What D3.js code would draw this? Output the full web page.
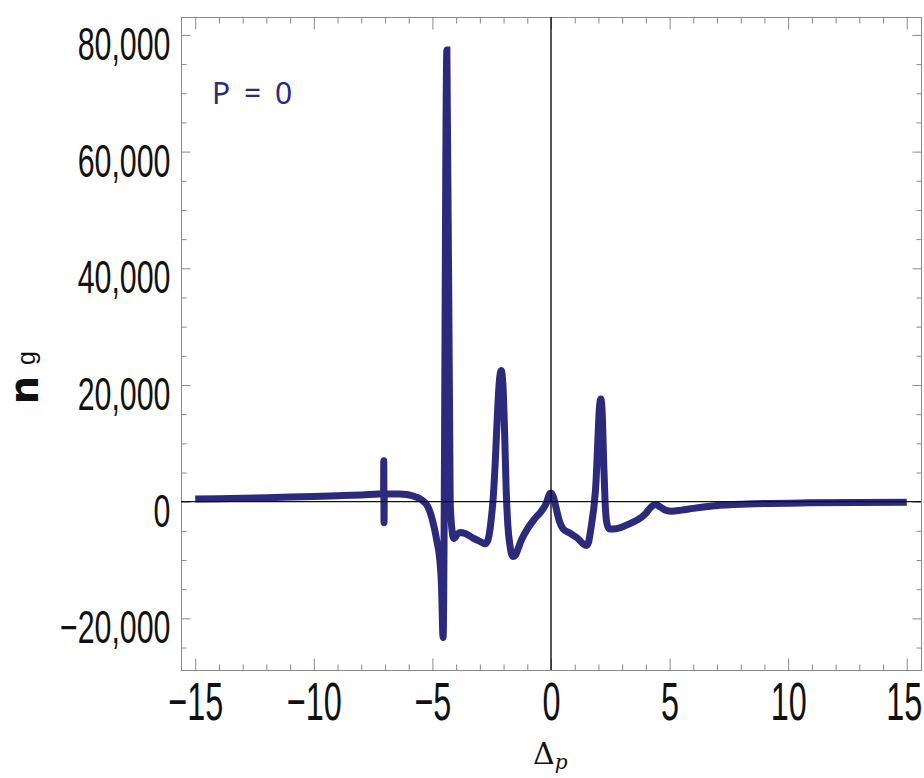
<!DOCTYPE html>
<html>
<head>
<meta charset="utf-8">
<script src="https://cdn.jsdelivr.net/npm/d3@7"></script>
<style>
  html, body { margin: 0; padding: 0; background: #fff; }
  svg { display: block; }
</style>
</head>
<body>
<svg id="chart" width="924" height="778"></svg>
<script>
// ---- data ----
const deltaP = [
  -15, -14, -13, -12, -11, -10, -9, -8, -7.4, -7.15, -7.06, -7.05, -7.04, -7.03,
  -6.8, -6.4, -6.1, -5.9, -5.7, -5.53, -5.35, -5.2, -5.05, -4.92, -4.8, -4.7, -4.62, -4.55,
  -4.39, -4.25, -4.17, -4.10, -3.95, -3.82, -3.6, -3.3, -3.0, -2.78, -2.68, -2.6, -2.52,
  -2.44, -2.36, -2.27, -2.18, -2.1, -2.02, -1.95, -1.89, -1.82, -1.72, -1.6, -1.5, -1.4, -1.25, -1.0,
  -0.7, -0.4, -0.2, -0.05, 0.0, 0.1, 0.2, 0.35, 0.5, 0.8, 1.1, 1.35, 1.5, 1.58, 1.66, 1.74,
  1.82, 1.9, 1.97, 2.04, 2.1, 2.16, 2.22, 2.28, 2.36, 2.46, 2.62, 2.9, 3.3, 3.7, 4.0, 4.2, 4.4, 4.6,
  4.85, 5.1, 5.5, 6.0, 6.9, 8.3, 10.8, 15
];
const ng = [
  450, 520, 600, 690, 790, 900, 1020, 1160, 1280, 1330, 1360, 7000, -3600, 1360,
  1330, 1320, 1230, 1080, 800, 500, -50, -800, -2400, -4500, -7000, -9500, -14000, -23300,
  77400, 0, -5000, -6300, -5600, -5300, -5500, -6200, -6800, -7200, -6800, -5500, -3000,
  500, 6000, 14000, 20500, 22500, 19500, 11000, 2000, -4000, -7800, -9400, -9200, -8200, -6600, -4700,
  -3000, -1600, -300, 1400, 1500, 800, -800, -3300, -4600, -5400, -6200, -7200, -7500, -7000, -5200, -3000,
  -500, 3500, 10000, 16000, 17600, 15000, 7000, 0, -3800, -4700, -4700, -4500, -3800, -3000, -2000, -1000, -500, -900,
  -1500, -1650, -1450, -1150, -700, -400, -200, -100
];
const xMajorTicks = [-15, -10, -5, 0, 5, 10, 15];
const xMinorTicks = d3.range(-15, 16, 1).filter(v => v % 5 !== 0);
const yMajorTicks = [-20000, 0, 20000, 40000, 60000, 80000];
const yMinorTicks = d3.range(-25000, 82000, 5000).filter(v => v % 20000 !== 0);
const seriesLabel = "P = 0";

// ---- layout ----
const svg = d3.select("#chart");
const L = 181, R = 921, T = 17, B = 670;
const x = d3.scaleLinear().domain([-15.6, 15.6]).range([L, R]);
const y = d3.scaleLinear().domain([-28850, 83070]).range([B, T]);
const frameColor = "#8a8a8a";
const lineColor = "#2b2a7c";

// frame
svg.append("rect")
  .attr("x", L + 0.5).attr("y", T + 0.5)
  .attr("width", R - L).attr("height", B - T)
  .attr("fill", "none").attr("stroke", frameColor).attr("stroke-width", 1);

function styleAxis(g) {
  g.select(".domain").remove();
  g.selectAll(".tick line").attr("stroke", frameColor).attr("stroke-width", 1);
}

// minor ticks (all four sides)
svg.append("g").attr("transform", `translate(0,${B + 0.5})`)
  .call(d3.axisBottom(x).tickValues(xMinorTicks).tickSize(-6).tickFormat(""))
  .call(styleAxis);
svg.append("g").attr("transform", `translate(0,${T + 0.5})`)
  .call(d3.axisTop(x).tickValues(xMinorTicks).tickSize(-6).tickFormat(""))
  .call(styleAxis);
svg.append("g").attr("transform", `translate(${L + 0.5},0)`)
  .call(d3.axisLeft(y).tickValues(yMinorTicks).tickSize(-5).tickFormat(""))
  .call(styleAxis);
svg.append("g").attr("transform", `translate(${R + 0.5},0)`)
  .call(d3.axisRight(y).tickValues(yMinorTicks).tickSize(-5).tickFormat(""))
  .call(styleAxis);

// major ticks top / right (no labels)
svg.append("g").attr("transform", `translate(0,${T + 0.5})`)
  .call(d3.axisTop(x).tickValues(xMajorTicks).tickSize(-12).tickFormat(""))
  .call(styleAxis);
svg.append("g").attr("transform", `translate(${R + 0.5},0)`)
  .call(d3.axisRight(y).tickValues(yMajorTicks).tickSize(-9).tickFormat(""))
  .call(styleAxis);

// major ticks with labels: bottom
const sxX = 0.6, sxY = 0.66;
const gx = svg.append("g").attr("transform", `translate(0,${B + 0.5})`)
  .call(d3.axisBottom(x).tickValues(xMajorTicks).tickSize(-12).tickFormat(d3.format("")))
  .call(styleAxis);
gx.selectAll(".tick text")
  .attr("y", 50).attr("dy", 0).attr("x", 0)
  .attr("transform", `scale(${sxX},1)`)
  .attr("fill", "#111")
  .style("font-family", "'Liberation Sans', Arial, sans-serif")
  .style("font-size", "54px");
// keep the last label inside the picture
gx.selectAll(".tick").filter(d => d === 15).select("text").attr("x", -3 / sxX);

// left
const gy = svg.append("g").attr("transform", `translate(${L + 0.5},0)`)
  .call(d3.axisLeft(y).tickValues(yMajorTicks).tickSize(-9).tickFormat(d3.format(",")))
  .call(styleAxis);
gy.selectAll(".tick text")
  .attr("x", -11 / sxY).attr("dy", 0).attr("y", 24.5)
  .attr("transform", `scale(${sxY},1)`)
  .attr("fill", "#111")
  .style("font-family", "'Liberation Sans', Arial, sans-serif")
  .style("font-size", "46px");

// curve
const pts = deltaP.map((d, i) => [d, ng[i]]);
const line = d3.line().x(d => x(d[0])).y(d => y(d[1])).curve(d3.curveMonotoneX);
svg.append("path").datum(pts)
  .attr("d", line)
  .attr("fill", "none")
  .attr("stroke", lineColor)
  .attr("stroke-width", 7)
  .attr("stroke-miterlimit", 4);

// zero axes (drawn over the curve)
svg.append("line")
  .attr("x1", L).attr("x2", R).attr("y1", y(0)).attr("y2", y(0))
  .attr("stroke", "#111").attr("stroke-width", 1.4);
svg.append("line")
  .attr("x1", x(0)).attr("x2", x(0)).attr("y1", T).attr("y2", B)
  .attr("stroke", "#111").attr("stroke-width", 1.4);

// series label
svg.append("text")
  .attr("x", 212).attr("y", 104)
  .attr("fill", lineColor)
  .style("font-family", "'Noto Sans', 'Open Sans', sans-serif")
  .style("font-size", "30px")
  .style("word-spacing", "6px")
  .text(seriesLabel);

// y axis title: n with small g
svg.append("text")
  .attr("transform", "translate(38,390) rotate(-90)")
  .attr("text-anchor", "middle")
  .attr("fill", "#111")
  .style("font-family", "'DejaVu Sans', sans-serif")
  .style("font-weight", "bold")
  .style("font-size", "40px")
  .text("n");
svg.append("text")
  .attr("transform", "translate(34.5,358) rotate(-90)")
  .attr("text-anchor", "middle")
  .attr("fill", "#111")
  .style("font-family", "'Liberation Sans', sans-serif")
  .style("font-size", "25px")
  .text("g");

// x axis title: Δp
const xt = svg.append("text")
  .attr("x", 533).attr("y", 764)
  .attr("fill", "#111")
  .style("font-family", "'DejaVu Serif', 'Liberation Serif', serif")
  .style("font-size", "30px");
xt.append("tspan").text("Δ");
xt.append("tspan").attr("dy", 5).style("font-size", "20px").style("font-style", "italic").text("p");
</script>
</body>
</html>
